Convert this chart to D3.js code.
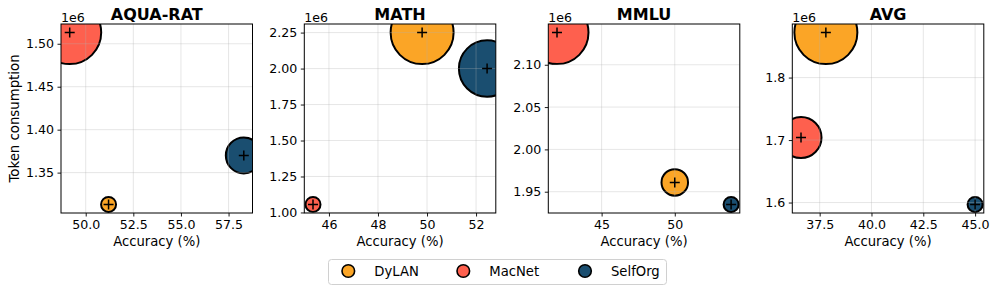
<!DOCTYPE html>
<html>
<head>
<meta charset="utf-8">
<script src="https://cdn.jsdelivr.net/npm/d3@7"></script>
<style>
  body { margin: 0; background: #fff; }
  svg { font-family: "DejaVu Sans", sans-serif; display: block; }
</style>
</head>
<body>
<svg id="chart"></svg>
<script>
// data
var datasets = ["AQUA-RAT", "MATH", "MMLU", "AVG"];
var methods = ["DyLAN", "MacNet", "SelfOrg"];
var colors = ["#FBA526", "#FE604E", "#1A4E70"];

// accuracy (%) per dataset
var accDyLAN   = [51.2, 49.8, 50.0, 37.8];
var accMacNet  = [49.16, 45.35, 41.95, 36.6];
var accSelfOrg = [58.3, 52.45, 53.85, 45.0];

// token consumption per dataset
var tokDyLAN   = [1313000, 2250000, 1961000, 1872000];
var tokMacNet  = [1513000, 1056000, 2138000, 1704000];
var tokSelfOrg = [1370000, 2000000, 1935000, 1597000];

// tick labels
var xTicks = [[50, 52.5, 55, 57.5], [46, 48, 50, 52], [45, 50], [37.5, 40, 42.5, 45]];
var yTicks = [[1.35, 1.40, 1.45, 1.50], [1.00, 1.25, 1.50, 1.75, 2.00, 2.25], [1.95, 2.00, 2.05, 2.10], [1.6, 1.7, 1.8]];
var xFmt = [".1f", ".0f", ".0f", ".1f"];
var yFmt = [".2f", ".2f", ".2f", ".1f"];

var accs = [accDyLAN, accMacNet, accSelfOrg];
var toks = [tokDyLAN, tokMacNet, tokSelfOrg];

var W = 996, H = 292;
var svg = d3.select("#chart").attr("width", W).attr("height", H);

var lefts = [61, 304.3, 548.3, 792.3];
var pw = 191.5, plotTop = 24, plotBot = 213;

function padded(ext) {
    var p = (ext[1] - ext[0]) * 0.05;
    return [ext[0] - p, ext[1] + p];
}

datasets.forEach(function (name, i) {
    var pts = methods.map(function (m, j) {
        return { method: m, color: colors[j], acc: accs[j][i], tok: toks[j][i] };
    });

    var x = d3.scaleLinear()
        .domain(padded(d3.extent(pts, function (d) { return d.acc; })))
        .range([lefts[i], lefts[i] + pw]);
    var y = d3.scaleLinear()
        .domain(padded(d3.extent(pts, function (d) { return d.tok; })))
        .range([plotBot, plotTop]);
    // bubble area grows with token use inside the panel
    var r = d3.scaleRadial()
        .domain(d3.extent(pts, function (d) { return d.tok; }))
        .range([7.5, 31.5]);

    var g = svg.append("g");

    svg.append("clipPath").attr("id", "clip" + i)
        .append("rect")
        .attr("x", lefts[i]).attr("y", plotTop)
        .attr("width", pw).attr("height", plotBot - plotTop);

    var plot = g.append("g").attr("clip-path", "url(#clip" + i + ")");

    plot.selectAll("circle.b")
        .data(pts)
        .enter().append("circle")
        .attr("class", "b")
        .attr("cx", function (d) { return x(d.acc); })
        .attr("cy", function (d) { return y(d.tok); })
        .attr("r", function (d) { return r(d.tok); })
        .attr("fill", function (d) { return d.color; })
        .attr("stroke", "#000")
        .attr("stroke-width", 2);

    // grid on top of the bubbles, like matplotlib
    plot.selectAll("line.gx")
        .data(xTicks[i])
        .enter().append("line")
        .attr("x1", function (d) { return x(d); }).attr("x2", function (d) { return x(d); })
        .attr("y1", plotTop).attr("y2", plotBot)
        .attr("stroke", "#b0b0b0").attr("stroke-opacity", 0.4).attr("stroke-width", 0.8);
    plot.selectAll("line.gy")
        .data(yTicks[i])
        .enter().append("line")
        .attr("x1", lefts[i]).attr("x2", lefts[i] + pw)
        .attr("y1", function (d) { return y(d * 1e6); }).attr("y2", function (d) { return y(d * 1e6); })
        .attr("stroke", "#b0b0b0").attr("stroke-opacity", 0.4).attr("stroke-width", 0.8);

    plot.selectAll("path.plus")
        .data(pts)
        .enter().append("path")
        .attr("d", function (d) {
            var cx = x(d.acc), cy = y(d.tok);
            return "M" + (cx - 5) + "," + cy + "H" + (cx + 5) + "M" + cx + "," + (cy - 5) + "V" + (cy + 5);
        })
        .attr("stroke", "#000").attr("stroke-width", 1.5);

    var xAxis = d3.axisBottom(x).tickValues(xTicks[i])
        .tickFormat(d3.format(xFmt[i])).tickSizeOuter(0).tickSize(3.5).tickPadding(3.5);
    var yAxis = d3.axisLeft(y).tickValues(yTicks[i].map(function (v) { return v * 1e6; }))
        .tickFormat(function (v) { return d3.format(yFmt[i])(v / 1e6); })
        .tickSizeOuter(0).tickSize(3.5).tickPadding(3.5);

    var gx = g.append("g").attr("transform", "translate(0," + plotBot + ")").call(xAxis);
    var gy = g.append("g").attr("transform", "translate(" + lefts[i] + ",0)").call(yAxis);
    [gx, gy].forEach(function (a) {
        a.select(".domain").remove();
        a.selectAll("text").attr("font-size", 12.6).attr("fill", "#000").attr("font-family", "DejaVu Sans");
        a.selectAll("line").attr("stroke", "#000").attr("stroke-width", 0.9);
    });

    g.append("rect")
        .attr("x", lefts[i]).attr("y", plotTop)
        .attr("width", pw).attr("height", plotBot - plotTop)
        .attr("fill", "none").attr("stroke", "#000").attr("stroke-width", 1);

    g.append("text")
        .attr("x", lefts[i] + pw / 2).attr("y", 20)
        .attr("text-anchor", "middle")
        .attr("font-size", 16).attr("font-weight", "bold")
        .text(name);

    g.append("text")
        .attr("x", lefts[i]).attr("y", 21.5)
        .attr("font-size", 12.6)
        .text("1e6");

    g.append("text")
        .attr("x", lefts[i] + pw / 2).attr("y", 246)
        .attr("text-anchor", "middle")
        .attr("font-size", 13.2)
        .text("Accuracy (%)");
});

svg.append("text")
    .attr("transform", "translate(19," + ((plotTop + plotBot) / 2) + ") rotate(-90)")
    .attr("text-anchor", "middle")
    .attr("font-size", 13.3)
    .text("Token consumption");

// legend
var leg = svg.append("g");
leg.append("rect")
    .attr("x", 328.5).attr("y", 259.5).attr("width", 338).attr("height", 25)
    .attr("rx", 3).attr("fill", "#fff").attr("stroke", "#d0d0d0").attr("stroke-width", 1);
var legX = [348.3, 463.3, 585];
methods.forEach(function (m, j) {
    leg.append("circle")
        .attr("cx", legX[j]).attr("cy", 271)
        .attr("r", 6.3)
        .attr("fill", colors[j]).attr("stroke", "#000").attr("stroke-width", 1.6);
    leg.append("text")
        .attr("x", legX[j] + 26).attr("y", 276)
        .attr("font-size", 13.2)
        .text(m);
});
</script>
</body>
</html>
